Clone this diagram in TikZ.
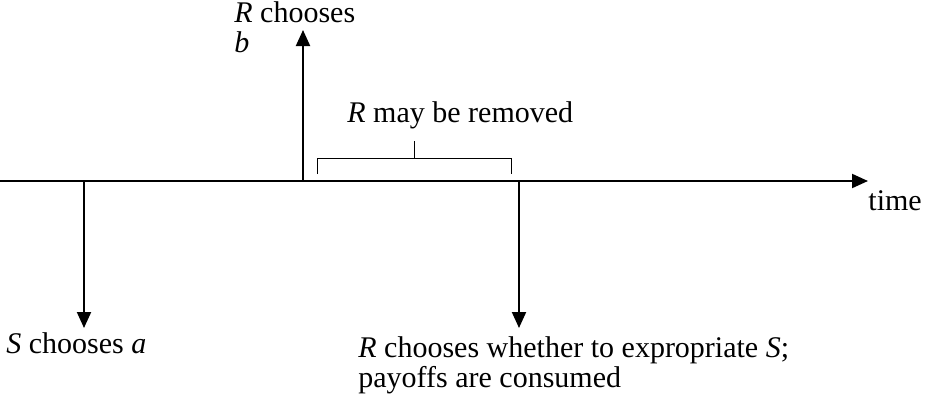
\documentclass[tikz,border=0pt]{standalone}
\usepackage{fontspec}
\setmainfont{Liberation Serif}
\usetikzlibrary{arrows.meta}
\begin{document}
\begin{tikzpicture}[x=0.5pt,y=-0.5pt,
  evt/.style={line width=1pt,-{Triangle[width=7pt,length=8pt]}},
  brk/.style={line width=0.5pt},
  lbl/.style={font=\fontsize{15}{15}\selectfont,inner sep=0pt}]
\useasboundingbox (0,0) rectangle (925,396);
% axis
\coordinate (a0) at (0,181);
\coordinate (a1) at (868,181);
\draw[evt] (a0) -- (a1);
\node[lbl,anchor=base west] (time) at (868,210) {time};
% S chooses a
\coordinate (s0) at (84,181);
\coordinate (s1) at (84,328);
\draw[evt] (s0) -- (s1);
\node[lbl,anchor=base west] (slab) at (6,353) {\textit{S} chooses \textit{a}};
% R chooses b
\coordinate (r0) at (303,181);
\coordinate (r1) at (303,30);
\draw[evt] (r0) -- (r1);
\node[lbl,anchor=base west,align=left] (rlab) at (234,52) {\textit{R} chooses\\\textit{b}};
% bracket
\coordinate (b1) at (317,174);
\coordinate (b2) at (317,158);
\coordinate (b3) at (511,158);
\coordinate (b4) at (511,174);
\coordinate (bm) at (414,158);
\coordinate (bt) at (414,141);
\draw[brk] (b1) -- (b2) -- (b3) -- (b4);
\draw[brk] (bm) -- (bt);
\node[lbl,anchor=base west] (rem) at (347,122) {\textit{R} may be removed};
% expropriate
\coordinate (e0) at (519,181);
\coordinate (e1) at (519,328);
\draw[evt] (e0) -- (e1);
\node[lbl,anchor=base west,align=left] (elab) at (358,387) {\textit{R} chooses whether to expropriate \textit{S};\\payoffs are consumed};
\end{tikzpicture}
\end{document}
